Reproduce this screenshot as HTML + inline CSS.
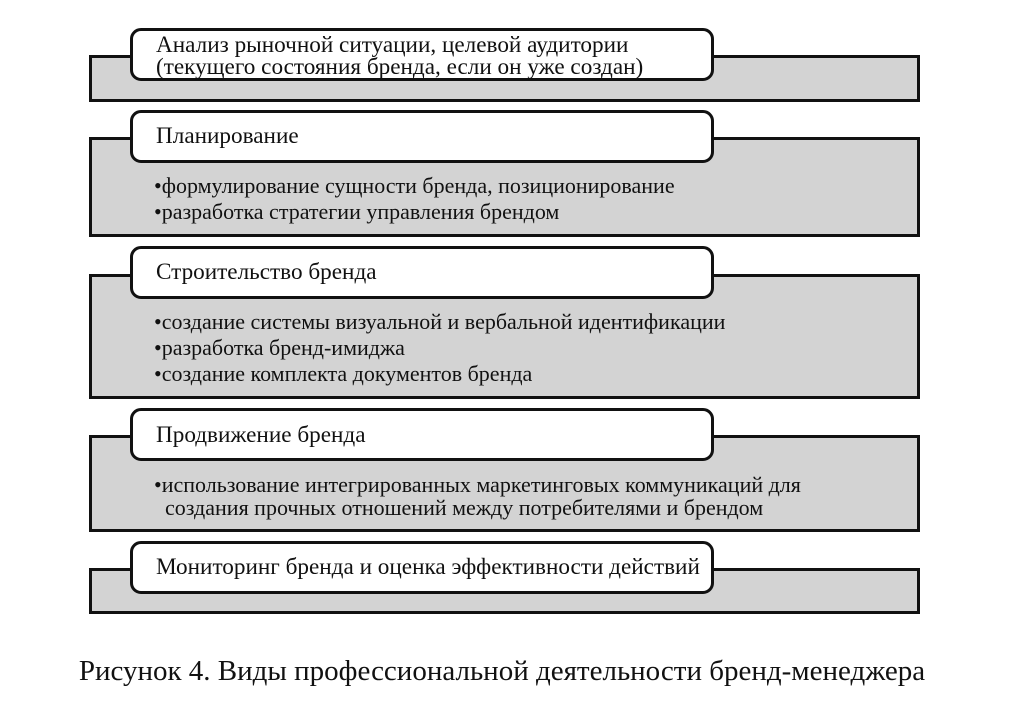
<!DOCTYPE html>
<html><head><meta charset="utf-8"><style>
body{margin:0;width:1024px;height:712px;background:#fff;position:relative;overflow:hidden;font-family:"Liberation Serif","DejaVu Serif",serif;color:#111}
.g{position:absolute;left:89px;background:#d3d3d3;border:3px solid #111;box-sizing:border-box;width:831px}
.w{position:absolute;left:130px;width:584px;height:53px;background:#fff;border:3px solid #111;border-radius:11px;box-sizing:border-box}
.t{position:absolute;left:156px;font-size:23.2px;line-height:22px;white-space:nowrap}
.b{position:absolute;left:154px;font-size:22px;line-height:26px;white-space:nowrap}
.c{position:absolute;left:0;width:1004px;text-align:center;top:654px;font-size:29px;line-height:34px;white-space:nowrap}
</style></head><body>
<div class="g" style="top:55px;height:47px"></div>
<div class="w" style="top:28px"></div>
<div class="t" style="top:34px">Анализ рыночной ситуации, целевой аудитории<br>(текущего состояния бренда, если он уже создан)</div>

<div class="g" style="top:137px;height:100px"></div>
<div class="w" style="top:110px"></div>
<div class="t" style="top:125px">Планирование</div>
<div class="b" style="top:173px">•формулирование сущности бренда, позиционирование<br>•разработка стратегии управления брендом</div>

<div class="g" style="top:274px;height:125px"></div>
<div class="w" style="top:246px"></div>
<div class="t" style="top:261px">Строительство бренда</div>
<div class="b" style="top:309px">•создание системы визуальной и вербальной идентификации<br>•разработка бренд-имиджа<br>•создание комплекта документов бренда</div>

<div class="g" style="top:435px;height:97px"></div>
<div class="w" style="top:408px"></div>
<div class="t" style="top:424px">Продвижение бренда</div>
<div class="b" style="top:473px;line-height:23px">•использование интегрированных маркетинговых коммуникаций для<br>&nbsp;&nbsp;создания прочных отношений между потребителями и брендом</div>

<div class="g" style="top:568px;height:46px"></div>
<div class="w" style="top:541px"></div>
<div class="t" style="top:556px">Мониторинг бренда и оценка эффективности действий</div>

<div class="c">Рисунок 4. Виды профессиональной деятельности бренд-менеджера</div>
</body></html>
